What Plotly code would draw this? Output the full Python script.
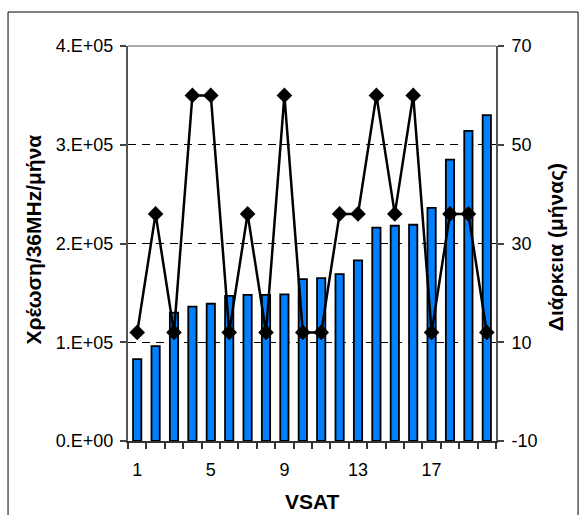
import plotly.graph_objects as go

# ---- data ----
vsat = list(range(1, 21))
charge = [83000, 96000, 130000, 136000, 139000, 147000, 148000, 148000, 148500, 164000,
          165000, 169000, 183000, 216000, 218000, 219000, 236000, 285000, 314000, 330000]
duration = [12, 36, 12, 60, 60, 12, 36, 12, 60, 12,
            12, 36, 36, 60, 36, 60, 12, 36, 36, 12]
x_tick_vals = [1, 5, 9, 13, 17]
y_tick_vals = [0, 100000, 200000, 300000, 400000]
y_tick_text = ["0.E+00", "1.E+05", "2.E+05", "3.E+05", "4.E+05"]
y2_tick_vals = [-10, 10, 30, 50, 70]
y2_tick_text = ["-10", "10", "30", "50", "70"]
x_title = "VSAT"
y_title = "Χρέωση/36MHz/μήνα"
y2_title = "Διάρκεια (μήνας)"

FONT = "Liberation Sans, Arial, sans-serif"

fig = go.Figure()
fig.add_trace(go.Bar(
    x=vsat, y=charge, width=0.45,
    marker=dict(color="rgb(0,128,255)", line=dict(color="black", width=1.8)),
    yaxis="y", showlegend=False,
))
fig.add_trace(go.Scatter(
    x=vsat, y=duration, mode="lines+markers",
    line=dict(color="black", width=2.5),
    marker=dict(symbol="diamond", size=12, color="black"),
    yaxis="y2", showlegend=False,
))

fig.update_layout(
    width=580, height=515,
    margin=dict(l=128, r=84, t=46, b=74),
    paper_bgcolor="white", plot_bgcolor="white",
    font=dict(family=FONT, size=18, color="black"),
    xaxis=dict(
        range=[0.5, 20.5], tickmode="array", tickvals=x_tick_vals,
        ticks="", showgrid=False, zeroline=False,
        showline=True, linecolor="#333", linewidth=2,
        minor=dict(tickmode="array", tickvals=[i + 0.5 for i in range(0, 21)],
                   ticks="outside", ticklen=6, tickwidth=1.5, tickcolor="#333", showgrid=False),
        tickfont=dict(size=18), ticklabelstandoff=11,
    ),
    yaxis=dict(
        range=[0, 400000], tickmode="array", tickvals=y_tick_vals, ticktext=y_tick_text,
        ticks="outside", ticklen=6, tickwidth=1.5, tickcolor="#444",
        showline=True, linecolor="#555", linewidth=2,
        showgrid=True, gridcolor="black", gridwidth=1, griddash="8px,6px",
        zeroline=False, tickfont=dict(size=18), ticklabelstandoff=3,
    ),
    yaxis2=dict(
        range=[-10, 70], tickmode="array", tickvals=y2_tick_vals, ticktext=y2_tick_text,
        overlaying="y", side="right",
        ticks="outside", ticklen=6, tickwidth=1.5, tickcolor="#444",
        showline=True, linecolor="#555", linewidth=2,
        showgrid=False, zeroline=False, tickfont=dict(size=18), ticklabelstandoff=4,
    ),
    annotations=[
        dict(text="<b>%s</b>" % x_title, xref="paper", yref="paper", x=0.5, y=-0.152,
             showarrow=False, font=dict(size=21), xanchor="center", yanchor="middle"),
        dict(text="<b>%s</b>" % y_title, xref="paper", yref="paper", x=-0.258, y=0.51,
             showarrow=False, font=dict(size=21), textangle=-90,
             xanchor="center", yanchor="middle"),
        dict(text="<b>%s</b>" % y2_title, xref="paper", yref="paper", x=1.165, y=0.49,
             showarrow=False, font=dict(size=21), textangle=-90,
             xanchor="center", yanchor="middle"),
    ],
    shapes=[
        dict(type="line", xref="paper", yref="paper", x0=0, x1=1, y0=1, y1=1,
             line=dict(color="#aaa", width=2), layer="above"),
        dict(type="rect", xref="paper", yref="paper", x0=-0.326, x1=1.223, y0=-0.3, y1=1.086,
             line=dict(color="black", width=1), layer="below"),
    ],
)

fig.write_html("out.html")
